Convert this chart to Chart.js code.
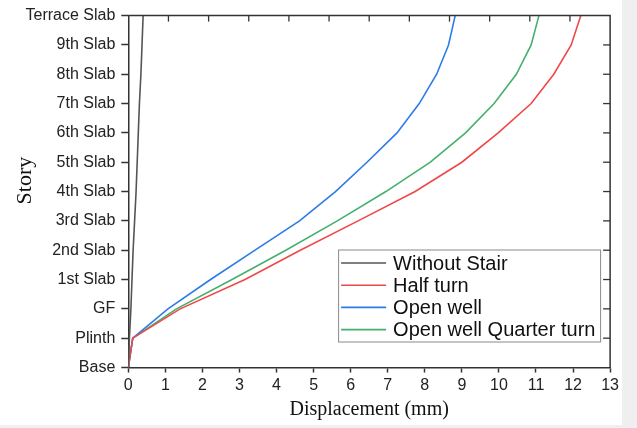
<!DOCTYPE html>
<html>
<head>
<meta charset="utf-8">
<script src="https://cdn.jsdelivr.net/npm/chart.js@4/dist/chart.umd.min.js"></script>
<style>
  html, body { margin: 0; padding: 0; background: #efefef; }
  #wrap { width: 622px; height: 425px; background: #fff; position: relative; }
</style>
</head>
<body>
<div id="wrap"><canvas id="chart"></canvas></div>
<script>
// Niveaux (de bas en haut)
const stories = ["Base", "Plinth", "GF", "1st Slab", "2nd Slab", "3rd Slab", "4th Slab",
  "5th Slab", "6th Slab", "7th Slab", "8th Slab", "9th Slab", "Terrace Slab"];

// Déplacements (mm) par niveau
const withoutStair = [0, 0.03, 0.07, 0.10, 0.13, 0.17, 0.21, 0.24, 0.27, 0.30, 0.34, 0.37, 0.40];
const halfTurn = [0, 0.12, 1.40, 3.15, 4.64, 6.20, 7.74, 9.00, 9.98, 10.87, 11.48, 11.95, 12.21];
const openWell = [0, 0.12, 1.07, 2.22, 3.42, 4.62, 5.59, 6.44, 7.25, 7.85, 8.32, 8.64, 8.82];
const openWellQuarter = [0, 0.12, 1.30, 2.80, 4.25, 5.64, 6.95, 8.15, 9.10, 9.87, 10.47, 10.87, 11.08];

const seriesNames = ["Without Stair", "Half turn", "Open well", "Open well Quarter turn"];
const seriesColors = ["#555555", "#f04848", "#2f7be6", "#45b06e"];

function points(values) {
	return values.map((v, i) => ({ x: v, y: i }));
}

const allSeries = [withoutStair, halfTurn, openWell, openWellQuarter];

const data = {
	datasets: allSeries.map((s, i) => ({
		label: seriesNames[i],
		data: points(s),
		borderColor: seriesColors[i],
		backgroundColor: seriesColors[i],
		borderWidth: 1.6,
		pointRadius: 0,
		tension: 0,
	})),
};

const axisColor = "#333";
const tickFont = { family: "'Liberation Sans', Arial, sans-serif", size: 16 };
const serif = "'Liberation Serif', 'Times New Roman', serif";

// Cadre, graduations intérieures, titre vertical et légende encadrée
const framePlugin = {
	id: "frame",
	afterDraw(chart) {
		const ctx = chart.ctx;
		const a = chart.chartArea;
		ctx.save();
		ctx.strokeStyle = axisColor;
		ctx.lineWidth = 1.5;
		ctx.beginPath();
		ctx.moveTo(a.left, a.top);
		ctx.lineTo(a.right, a.top);
		ctx.lineTo(a.right, a.bottom);
		ctx.stroke();

		// graduations du haut (échelle secondaire)
		const x2 = chart.scales.x2;
		ctx.lineWidth = 1.3;
		for (let k = 1; k < 12; k++) {
			const px = x2.getPixelForValue(k);
			ctx.beginPath();
			ctx.moveTo(px, a.top);
			ctx.lineTo(px, a.top + 6);
			ctx.stroke();
		}
		// graduations de droite
		const y = chart.scales.y;
		for (let i = 1; i < stories.length - 1; i++) {
			const py = y.getPixelForValue(i);
			ctx.beginPath();
			ctx.moveTo(a.right, py);
			ctx.lineTo(a.right - 7, py);
			ctx.stroke();
		}

		// titre de l'axe vertical
		ctx.save();
		ctx.translate(25, (a.top + a.bottom) / 2 - 11);
		ctx.rotate(-Math.PI / 2);
		ctx.font = "22px " + serif;
		ctx.fillStyle = "#111";
		ctx.textAlign = "center";
		ctx.textBaseline = "middle";
		ctx.fillText("Story", 0, 0);
		ctx.restore();

		// légende
		const bx = a.right - 272, by = a.bottom - 118, bw = 262, bh = 92;
		ctx.fillStyle = "#fff";
		ctx.fillRect(bx, by, bw, bh);
		ctx.strokeStyle = "#8a8a8a";
		ctx.lineWidth = 1;
		ctx.strokeRect(bx + 0.5, by + 0.5, bw, bh);
		ctx.font = "20px 'Liberation Sans', Arial, sans-serif";
		ctx.textBaseline = "middle";
		chart.data.datasets.forEach((ds, i) => {
			const ly = by + 13.5 + i * 22.2;
			ctx.strokeStyle = ds.borderColor;
			ctx.lineWidth = 1.6;
			ctx.beginPath();
			ctx.moveTo(bx + 3, ly);
			ctx.lineTo(bx + 48, ly);
			ctx.stroke();
			ctx.fillStyle = "#111";
			ctx.fillText(ds.label, bx + 55, ly + 1);
		});
		ctx.restore();
	},
};

const config = {
	type: "line",
	data: data,
	options: {
		responsive: true,
		maintainAspectRatio: false,
		animation: false,
		layout: { padding: { top: 14, right: 9.7, bottom: 0, left: 0 } },
		plugins: { legend: { display: false }, tooltip: { enabled: false } },
		scales: {
			x: {
				type: "linear",
				min: 0,
				max: 13,
				ticks: { stepSize: 1, color: "#222", font: tickFont, padding: 3, maxRotation: 0 },
				grid: { drawOnChartArea: false, tickLength: 5, tickColor: axisColor, tickWidth: 1.5 },
				border: { color: axisColor, width: 1.5 },
				title: {
					display: true,
					text: "Displacement (mm)",
					color: "#111",
					font: { family: serif, size: 20 },
					padding: { top: 0, bottom: 3 },
				},
				afterFit(s) { s.height = 57.5; },
			},
			x2: {
				type: "linear",
				position: "top",
				display: false,
				min: 0,
				max: 12,
			},
			y: {
				type: "linear",
				min: 0,
				max: stories.length - 1,
				ticks: {
					stepSize: 1,
					autoSkip: false,
					color: "#222",
					font: tickFont,
					padding: 6,
					callback: (v) => stories[v],
				},
				grid: { drawOnChartArea: false, tickLength: 7, tickColor: axisColor, tickWidth: 1.5 },
				border: { color: axisColor, width: 1.5 },
				afterFit(s) { s.width = 128.3; },
			},
		},
	},
	plugins: [framePlugin],
};

const graphique = new Chart(document.querySelector("#chart"), config);
</script>
</body>
</html>
